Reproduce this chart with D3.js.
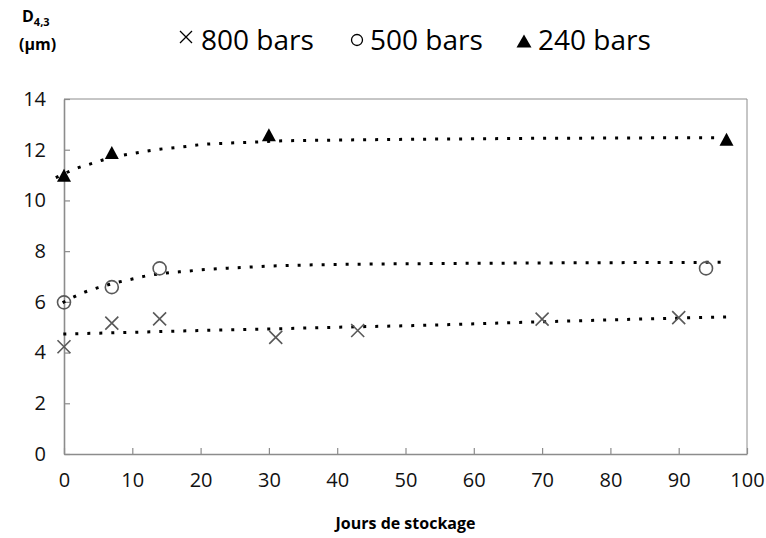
<!DOCTYPE html>
<html>
<head>
<meta charset="utf-8">
<script src="https://cdn.jsdelivr.net/npm/d3@7"></script>
<style>
  html, body { margin: 0; padding: 0; background: #fff; }
  svg { display: block; font-family: "Open Sans", "Noto Sans", sans-serif; }
</style>
</head>
<body>
<svg id="chart" width="766" height="538"></svg>
<script>
// ---- Data ----
const seriesNames = ["800 bars", "500 bars", "240 bars"];

const days800 = [0, 7, 14, 31, 43, 70, 90];
const vals800 = [4.23, 5.16, 5.33, 4.6, 4.87, 5.32, 5.38];

const days500 = [0, 7, 14, 94];
const vals500 = [5.98, 6.58, 7.32, 7.32];

const days240 = [0, 7, 30, 97];
const vals240 = [10.95, 11.85, 12.55, 12.37];

// Dotted trend curves
const trend800X = [-0.1, 10, 20, 30, 40, 52, 68, 80, 97.3];
const trend800Y = [4.73, 4.8, 4.87, 4.93, 5.0, 5.07, 5.2, 5.29, 5.41];

const trend500X = [-0.2, 3, 5, 8, 10, 12, 15, 18, 20, 24, 27, 30, 35, 45, 60, 75, 97];
const trend500Y = [5.97, 6.38, 6.56, 6.78, 6.9, 7.02, 7.14, 7.21, 7.26, 7.33, 7.37, 7.41, 7.45, 7.49, 7.52, 7.54, 7.56];

const trend240X = [-1.2, 2, 4, 6, 8, 10, 12, 14, 17, 20, 24, 28, 32, 40, 50, 60, 70, 80, 90, 96];
const trend240Y = [10.9, 11.28, 11.45, 11.62, 11.75, 11.85, 11.94, 12.02, 12.1, 12.2, 12.26, 12.3, 12.35, 12.38, 12.41, 12.43, 12.45, 12.46, 12.47, 12.47];

const xTicks = [0, 10, 20, 30, 40, 50, 60, 70, 80, 90, 100];
const yTicks = [0, 2, 4, 6, 8, 10, 12, 14];

const xTitle = "Jours de stockage";

// ---- Layout ----
const svg = d3.select("#chart");
const pL = 64, pR = 747, pT = 99, pB = 454;
const x = d3.scaleLinear().domain([0, 100]).range([pL, pR]);
const y = d3.scaleLinear().domain([0, 14]).range([pB, pT]);

const axisColor = "#8c8c8c";
const markColor = "#595959";

// plot area border (top / right)
svg.append("path")
  .attr("d", `M${pL},${pT}H${pR}V${pB}`)
  .attr("fill", "none").attr("stroke", axisColor).attr("stroke-width", 1);

// axes
const gx = svg.append("g").attr("transform", `translate(0,${pB})`)
  .call(d3.axisBottom(x).tickValues(xTicks).tickSizeInner(-6).tickSizeOuter(0).tickPadding(18));
const gy = svg.append("g").attr("transform", `translate(${pL},0)`)
  .call(d3.axisLeft(y).tickValues(yTicks).tickSizeInner(-6).tickSizeOuter(0).tickPadding(18));

[gx, gy].forEach(g => {
  g.select(".domain").attr("stroke", axisColor).attr("stroke-width", 1.6);
  g.selectAll(".tick line").attr("stroke", axisColor).attr("stroke-width", 1.2);
  g.selectAll(".tick text").attr("fill", "#111").attr("font-size", 20)
    .attr("font-family", "'Open Sans', sans-serif");
});
gx.selectAll(".tick text").attr("dy", "0.75em").attr("y", 18);
gy.selectAll(".tick text").attr("x", -18);

// trend lines
const line = d3.line().x(d => x(d[0])).y(d => y(d[1])).curve(d3.curveMonotoneX);
const trends = [
  d3.zip(trend800X, trend800Y),
  d3.zip(trend500X, trend500Y),
  d3.zip(trend240X, trend240Y)
];
svg.append("g").selectAll("path").data(trends).join("path")
  .attr("d", line)
  .attr("fill", "none")
  .attr("stroke", "#000")
  .attr("stroke-width", 3)
  .attr("stroke-dasharray", "3 9");

// markers
const crossPath = s => `M${-s},${-s}L${s},${s}M${-s},${s}L${s},${-s}`;
const triPath = (w, h) => `M0,${-h * 0.58}L${w / 2},${h * 0.42}L${-w / 2},${h * 0.42}Z`;

svg.append("g").selectAll("path").data(d3.zip(days800, vals800)).join("path")
  .attr("transform", d => `translate(${x(d[0])},${y(d[1])})`)
  .attr("d", crossPath(6.5))
  .attr("fill", "none").attr("stroke", markColor).attr("stroke-width", 1.6);

svg.append("g").selectAll("circle").data(d3.zip(days500, vals500)).join("circle")
  .attr("cx", d => x(d[0])).attr("cy", d => y(d[1])).attr("r", 6.5)
  .attr("fill", "none").attr("stroke", markColor).attr("stroke-width", 1.6);

svg.append("g").selectAll("path").data(d3.zip(days240, vals240)).join("path")
  .attr("transform", d => `translate(${x(d[0])},${y(d[1])})`)
  .attr("d", triPath(14, 13))
  .attr("fill", "#000");

// legend
const legend = svg.append("g").attr("font-size", 28).attr("fill", "#000");
const legItems = [
  { sx: 186, sy: 37, tx: 201, kind: "cross" },
  { sx: 357, sy: 40, tx: 370, kind: "circle" },
  { sx: 524, sy: 42, tx: 538, kind: "tri" }
];
legItems.forEach((it, i) => {
  if (it.kind === "cross") {
    legend.append("path").attr("transform", `translate(${it.sx},${it.sy})`)
      .attr("d", crossPath(6)).attr("stroke", "#000").attr("stroke-width", 1.3).attr("fill", "none");
  } else if (it.kind === "circle") {
    legend.append("circle").attr("cx", it.sx).attr("cy", it.sy).attr("r", 5.5)
      .attr("fill", "none").attr("stroke", "#000").attr("stroke-width", 1.3);
  } else {
    legend.append("path").attr("transform", `translate(${it.sx},${it.sy})`)
      .attr("d", triPath(15, 13)).attr("fill", "#000");
  }
  legend.append("text").attr("x", it.tx).attr("y", 50).text(seriesNames[i]);
});

// y-axis title
const yt = svg.append("text").attr("x", 22).attr("y", 22)
  .attr("font-weight", "bold").attr("font-size", 16).attr("fill", "#000");
yt.append("tspan").text("D");
yt.append("tspan").attr("font-size", 11).attr("dy", 4).text("4,3");
svg.append("text").attr("x", 19).attr("y", 50)
  .attr("font-weight", "bold").attr("font-size", 16).attr("fill", "#000").text("(µm)");

// x-axis title
svg.append("text").attr("x", (pL + pR) / 2).attr("y", 529)
  .attr("text-anchor", "middle").attr("font-weight", "bold").attr("font-size", 16)
  .attr("fill", "#000").text(xTitle);
</script>
</body>
</html>
